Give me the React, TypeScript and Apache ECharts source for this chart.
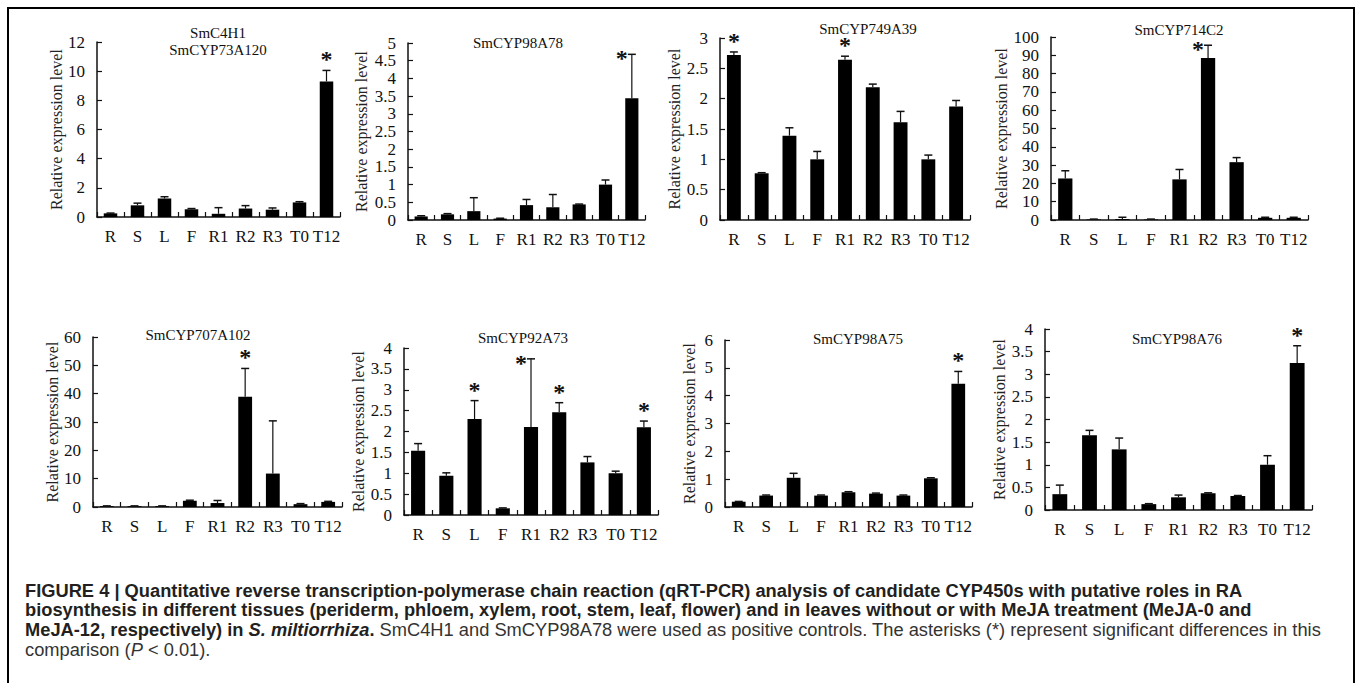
import React, { useEffect, useRef } from "react";
import * as echarts from "echarts";

const categories = ["R", "S", "L", "F", "R1", "R2", "R3", "T0", "T12"];

const titles = [
  "SmC4H1\nSmCYP73A120",
  "SmCYP98A78",
  "SmCYP749A39",
  "SmCYP714C2",
  "SmCYP707A102",
  "SmCYP92A73",
  "SmCYP98A75",
  "SmCYP98A76",
];

const yMaxes = [12, 5, 3, 100, 60, 4, 6, 4];
const ySteps = [2, 0.5, 0.5, 10, 10, 0.5, 1, 0.5];

const c4h1Values = [0.25, 0.8, 1.27, 0.53, 0.22, 0.58, 0.5, 1.0, 9.3];
const c4h1Errors = [0.02, 0.15, 0.12, 0.05, 0.42, 0.2, 0.12, 0.05, 0.75];
const c4h1Sig = [0, 0, 0, 0, 0, 0, 0, 0, 1];

const a78Values = [0.1, 0.16, 0.25, 0.04, 0.42, 0.36, 0.44, 1.0, 3.44];
const a78Errors = [0.02, 0.02, 0.38, 0.01, 0.16, 0.36, 0.01, 0.13, 1.24];
const a78Sig = [0, 0, 0, 0, 0, 0, 0, 0, 1];

const a39Values = [2.72, 0.77, 1.39, 1.0, 2.64, 2.19, 1.61, 1.0, 1.87];
const a39Errors = [0.05, 0.01, 0.13, 0.13, 0.06, 0.05, 0.18, 0.07, 0.1];
const a39Sig = [1, 0, 0, 0, 1, 0, 0, 0, 0];

const c2Values = [22.7, 0.3, 0.5, 0.3, 22.2, 88.5, 31.6, 1.2, 1.2];
const c2Errors = [4.2, 0.2, 1.0, 0.2, 5.4, 7.0, 2.5, 0.3, 0.3];
const c2Sig = [0, 0, 0, 0, 0, 1, 0, 0, 0];

const a102Values = [0.3, 0.3, 0.3, 2.2, 1.4, 38.9, 11.8, 1.0, 1.8];
const a102Errors = [0.1, 0.1, 0.1, 0.2, 0.9, 10.0, 18.6, 0.2, 0.2];
const a102Sig = [0, 0, 0, 0, 0, 1, 0, 0, 0];

const a73Values = [1.54, 0.94, 2.3, 0.16, 2.11, 2.46, 1.26, 1.0, 2.1];
const a73Errors = [0.17, 0.07, 0.44, 0.01, 1.63, 0.23, 0.14, 0.05, 0.15];
const a73Sig = [0, 0, 1, 0, 1, 1, 0, 0, 1];

const a75Values = [0.19, 0.41, 1.05, 0.41, 0.53, 0.48, 0.41, 1.03, 4.43];
const a75Errors = [0.01, 0.02, 0.16, 0.02, 0.02, 0.02, 0.02, 0.02, 0.44];
const a75Sig = [0, 0, 0, 0, 0, 0, 0, 0, 1];

const a76Values = [0.35, 1.65, 1.34, 0.13, 0.28, 0.37, 0.31, 1.0, 3.25];
const a76Errors = [0.2, 0.11, 0.25, 0.01, 0.05, 0.01, 0.01, 0.2, 0.38];
const a76Sig = [0, 0, 0, 0, 0, 0, 0, 0, 1];

const allValues = [c4h1Values, a78Values, a39Values, c2Values, a102Values, a73Values, a75Values, a76Values];
const allErrors = [c4h1Errors, a78Errors, a39Errors, c2Errors, a102Errors, a73Errors, a75Errors, a76Errors];
const allSig = [c4h1Sig, a78Sig, a39Sig, c2Sig, a102Sig, a73Sig, a75Sig, a76Sig];

const yAxisName = "Relative expression level";

const captionLines = [
  "{b|FIGURE 4 | Quantitative reverse transcription-polymerase chain reaction (qRT-PCR) analysis of candidate CYP450s with putative roles in RA}",
  "{b|biosynthesis in different tissues (periderm, phloem, xylem, root, stem, leaf, flower) and in leaves without or with MeJA treatment (MeJA-0 and}",
  "{b|MeJA-12, respectively) in }{bi|S. miltiorrhiza}{b|.}{n| SmC4H1 and SmCYP98A78 were used as positive controls. The asterisks (*) represent significant differences in this}",
  "{n|comparison (}{i|P}{n| < 0.01).}",
];

// layout: [left, top, width, height, nameGap, titleX, titleY]
const layouts = [
  [97, 42, 243, 175, 32, 218, 41],
  [408, 43, 237, 177, 39, 518, 43],
  [720, 38, 250, 182, 36, 868, 29],
  [1051, 37, 257, 183, 42, 1179, 30],
  [93, 337, 249, 170, 29, 198, 335],
  [404, 348, 254, 167, 35, 523, 338],
  [725, 340, 247, 167, 28, 858, 339],
  [1045, 329, 267, 181, 36, 1177, 339],
];

const SERIF = "'Liberation Serif', 'Times New Roman', serif";
const SANS = "'Liberation Sans', Arial, Helvetica, sans-serif";
const CAP = 18.3;

export default function App() {
  const ref = useRef<HTMLDivElement>(null);

  useEffect(() => {
    if (!ref.current) return;
    const chart = echarts.init(ref.current, null, { renderer: "svg" });

    const grids: any[] = [];
    const xAxes: any[] = [];
    const yAxes: any[] = [];
    const series: any[] = [];
    const graphics: any[] = [];

    layouts.forEach((l, k) => {
      const [left, top, width, height, nameGap, tx, ty] = l;
      grids.push({ left, top, width, height, containLabel: false });
      xAxes.push({
        type: "category",
        gridIndex: k,
        data: categories,
        axisLine: { lineStyle: { color: "#111", width: 1.5 } },
        axisTick: { show: true, inside: true, length: 5, lineStyle: { color: "#111", width: 1.2 } },
        axisLabel: { color: "#111", fontFamily: SERIF, fontSize: 17, margin: 11, interval: 0 },
        splitLine: { show: false },
      });
      yAxes.push({
        type: "value",
        gridIndex: k,
        min: 0,
        max: yMaxes[k],
        interval: ySteps[k],
        name: yAxisName,
        nameLocation: "middle",
        nameGap,
        nameRotate: 90,
        nameTextStyle: { color: "#222", fontFamily: SERIF, fontSize: 16 },
        axisLine: { show: true, lineStyle: { color: "#111", width: 1.5 } },
        axisTick: { show: true, inside: true, length: 5, lineStyle: { color: "#111", width: 1.2 } },
        axisLabel: { color: "#111", fontFamily: SERIF, fontSize: 17, margin: 12 },
        splitLine: { show: false },
      });
      series.push({
        type: "bar",
        xAxisIndex: k,
        yAxisIndex: k,
        data: allValues[k],
        barWidth: "50%",
        itemStyle: { color: "#000" },
        z: 2,
      });
      const errData = allValues[k].map((v, i) => [i, v, allErrors[k][i], allSig[k][i]]);
      series.push({
        type: "custom",
        xAxisIndex: k,
        yAxisIndex: k,
        data: errData,
        encode: { x: 0, y: 1 },
        z: 3,
        clip: false,
        renderItem: (params: any, api: any) => {
          const i = api.value(0);
          const v = api.value(1);
          const e = api.value(2);
          const s = api.value(3);
          const base = api.coord([i, v]);
          const topPt = api.coord([i, v + e]);
          const children: any[] = [];
          if (e > 0) {
            children.push({
              type: "line",
              shape: { x1: base[0], y1: base[1], x2: topPt[0], y2: topPt[1] },
              style: { stroke: "#111", lineWidth: 1.2 },
            });
            children.push({
              type: "line",
              shape: { x1: topPt[0] - 4, y1: topPt[1], x2: topPt[0] + 4, y2: topPt[1] },
              style: { stroke: "#111", lineWidth: 1.5 },
            });
          }
          if (s) {
            const gridTop = params.coordSys.y;
            let sy = topPt[1] - 5;
            let sx = topPt[0];
            if (topPt[1] - gridTop < 12) {
              sy = topPt[1] + 10;
              sx = topPt[0] - 10;
            }
            children.push({
              type: "text",
              x: sx,
              y: sy,
              style: {
                text: "*",
                fill: "#111",
                font: `bold 24px ${SERIF}`,
                textAlign: "center",
                textVerticalAlign: "bottom",
                lineHeight: 12,
              },
            });
          }
          return { type: "group", children };
        },
      });
      graphics.push({
        type: "text",
        x: tx,
        y: ty,
        style: {
          text: titles[k],
          fill: "#111",
          font: `15px ${SERIF}`,
          textAlign: "center",
          textVerticalAlign: "middle",
          lineHeight: 17,
        },
      });
    });

    graphics.push({
      type: "rect",
      shape: { x: 8, y: 8, width: 1346, height: 700 },
      style: { fill: "none", stroke: "#000", lineWidth: 2 },
      silent: true,
    });

    const captionY = [590, 609.5, 629, 649];
    captionLines.forEach((t, idx) => {
      graphics.push({
        type: "text",
        x: 25,
        y: captionY[idx],
        style: {
          text: t,
          textVerticalAlign: "middle",
          rich: {
            b: { fontFamily: SANS, fontSize: CAP, fontWeight: "bold", fill: "#231f20", color: "#231f20" },
            bi: { fontFamily: SANS, fontSize: CAP, fontWeight: "bold", fontStyle: "italic", fill: "#231f20", color: "#231f20" },
            n: { fontFamily: SANS, fontSize: CAP, fill: "#333", color: "#333" },
            i: { fontFamily: SANS, fontSize: CAP, fontStyle: "italic", fill: "#333", color: "#333" },
          },
        },
      });
    });

    chart.setOption({
      animation: false,
      backgroundColor: "#fff",
      grid: grids,
      xAxis: xAxes,
      yAxis: yAxes,
      series,
      graphic: graphics,
    });

    return () => chart.dispose();
  }, []);

  return (
    <div
      ref={ref}
      style={{ position: "fixed", left: 0, top: 0, width: 1357, height: 683, background: "#fff" }}
    />
  );
}
